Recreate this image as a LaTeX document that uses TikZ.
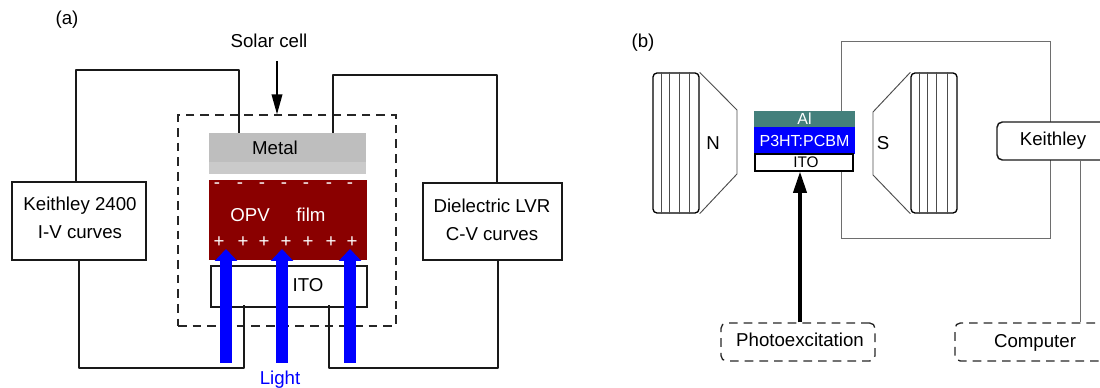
\documentclass[tikz,border=0pt]{standalone}
\usepackage{fontspec}
\setmainfont{Liberation Sans}
\usetikzlibrary{arrows.meta}
\definecolor{metaldark}{HTML}{BEBEBE}
\definecolor{metallight}{HTML}{CACACA}
\definecolor{opvred}{HTML}{8A0000}
\definecolor{alteal}{HTML}{44807C}
\definecolor{wiregray}{HTML}{6E6E6E}
\tikzset{
  lab/.style={font=\fontsize{14}{21}\selectfont,inner sep=0pt,align=center},
  box/.style={draw,black!90,line width=1.1pt,inner sep=0pt},
  wire/.style={black!90,line width=1.3pt,line join=round},
  thin wire/.style={wiregray,line width=.75pt},
  dash box/.style={draw,black!85,line width=1pt,dash pattern=on 6.5pt off 4.5pt,inner sep=0pt},
  light arrow/.style={blue,line width=9pt,-{Triangle[length=9pt,width=16.5pt]}},
  charge/.style={white,inner sep=0pt,font=\fontsize{14}{14}\selectfont},
  layer/.style={inner sep=0pt,white,font=\fontsize{12}{14}\selectfont},
  core/.style={draw,line width=1pt,rounded corners=3pt,minimum width=34.5pt,minimum height=105pt},
  pole/.style={wiregray!70!black,line width=.7pt},
  coil/.style={black!70,line width=.6pt}
}
\begin{document}
\begin{tikzpicture}[x=.75pt,y=-.75pt]
\clip (0,0) rectangle (1100,388);
% panel a
\node (panela) [lab] at (67,20) {(a)};
\node (solar) [lab] at (269,41) {Solar cell};
\node (cell) [dash box,minimum width=163.5pt,minimum height=158.25pt] at (287,220.5) {};
\node (keithleya) [box,minimum width=100.5pt,minimum height=58.5pt] at (79,221) {};
\node (keithleytext) [lab] at (80,218) {Keithley 2400\\I-V curves};
\node (lvr) [box,minimum width=104.25pt,minimum height=57.75pt] at (492.5,221.5) {};
\node (lvrtext) [lab] at (492,219.5) {Dielectric LVR\\C-V curves};
\node (metal) [fill=metallight,minimum width=117.75pt,minimum height=30.75pt,inner sep=0pt] at (287.5,153.5) {};
\fill [metaldark] (metal.north west) rectangle (metal.east |- 0,162);
\node (metallabel) [lab] at (275,148) {Metal};
\node (opv) [fill=opvred,minimum width=118.5pt,minimum height=60pt,inner sep=0pt] at (288,220) {};
\node (opvlabel) [lab,white] at (250,215) {OPV};
\node (filmlabel) [lab,white] at (311,215) {film};
\node (itoa) [box,minimum width=117pt,minimum height=30.75pt] at (289,286.5) {};
\node (itolabel) [lab] at (308,285) {ITO};
\foreach \x in {217,240,262,284,306,329,350}
  \node (minus\x) [charge] at (\x,186) {-};
\foreach \x in {219,243,264,286,308,331,352}
  \node (plus\x) [charge] at (\x,242) {+};
% wires of panel a
\draw [wire] (keithleya.north -| 76,0) -- (76,70) -- (239,70) -- (metal.north -| 239,0);
\draw [wire] (metal.north -| 333,0) -- (333,75) -- (497,75) -- (lvr.north -| 497,0);
\draw [wire] (keithleya.south) -- (79,368) -- (244,368) -- ([yshift=2.25pt]itoa.south -| 244,0);
\draw [wire] (lvr.south -| 498,0) -- (498,368) -- (329,368) -- ([yshift=2.25pt]itoa.south -| 329,0);
\coordinate (solarend) at (277,61);
\draw [line width=1.2pt,-{Triangle[length=15pt,width=8pt]}] (solarend) -- (cell.north -| 277,0);
\foreach \x in {226,282,350} {
  \coordinate (tail\x) at (\x,363);
  \coordinate (tip\x) at (\x,249);
  \draw [light arrow] (tail\x) -- (tip\x);
}
\node (light) [lab,blue] at (280,380) {Light};
% panel b
\node (panelb) [lab] at (643,43) {(b)};
\draw [thin wire] (841,111) -- (841,42) -- (1050,42) -- (1050,239) -- (841,239) -- (841,171);
\node (corel) [core] at (676,143) {};
\foreach \x in {661,669,679,689}
  \draw [coil] (corel.north -| \x,0) -- (corel.south -| \x,0);
\draw [pole] (corel.north east) -- (737,110) -- (737,174) -- (corel.south east);
\node (north) [lab] at (713,143) {N};
\node (corer) [core] at (934,143) {};
\foreach \x in {919,927,936,947}
  \draw [coil] (corer.north -| \x,0) -- (corer.south -| \x,0);
\draw [pole] (corer.north west) -- (873,112) -- (873,175) -- (corer.south west);
\node (south) [lab] at (883,143) {S};
\node (al) [layer,fill=alteal,minimum width=75.75pt,minimum height=12pt] at (804.5,119) {Al};
\node (pcbm) [layer,fill=blue,minimum width=75.75pt,minimum height=20.25pt] at (804.5,140.5) {P3HT:PCBM};
\node (itob) [draw,line width=1pt,inner sep=0pt,minimum width=73.5pt,minimum height=12.75pt] at (804,162.5) {};
\node (itoblabel) [lab,font=\fontsize{11.5}{14}\selectfont] at (806,162) {ITO};
\node (keithleyb) [box,rounded corners=4pt,fill=white,minimum width=90pt,minimum height=28.5pt] at (1057,141) {};
\node (keithleylabel) [lab] at (1053,141) {Keithley};
\node (photo) [dash box,rounded corners=4pt,minimum width=115.5pt,minimum height=28.5pt] at (798,342) {};
\node (photolabel) [lab] at (800,340) {Photoexcitation};
\node (computer) [dash box,rounded corners=4pt,minimum width=120pt,minimum height=28.5pt] at (1035,342) {};
\node (computerlabel) [lab] at (1035,343) {Computer};
\draw [line width=2.4pt,-{Triangle[length=16pt,width=10pt]}] (photo.north -| 800,0) -- (itob.south -| 800,0);
\draw [thin wire] (keithleyb.south -| 1080,0) -- (computer.north -| 1080,0);
\end{tikzpicture}
\end{document}
